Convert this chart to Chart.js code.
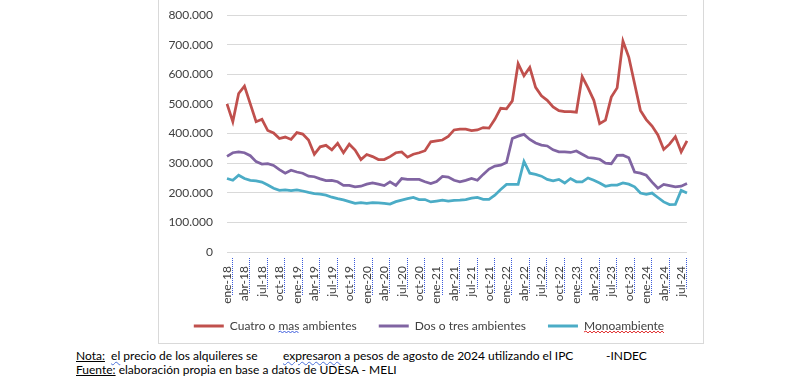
<!DOCTYPE html>
<html><head><meta charset="utf-8">
<script src="https://cdn.jsdelivr.net/npm/chart.js@4/dist/chart.umd.min.js"></script>
<style>
html,body{margin:0;padding:0;background:#fff;width:800px;height:383px;overflow:hidden;font-family:Lato,"Liberation Sans",sans-serif;}
#frame{position:absolute;left:158px;top:-30px;width:544px;height:372px;border:1px solid #d9d9d9;}
#wrap{position:absolute;left:159px;top:0;width:544px;height:342px;}
.fn{position:absolute;font-size:12px;color:#000;white-space:pre;line-height:14px;}
.u{text-decoration:underline;}
.w{text-decoration:underline wavy #4a6fd8;text-decoration-thickness:1px;}
</style></head><body>
<div id="frame"></div>
<div id="wrap"><canvas id="c" width="544" height="342"></canvas></div>
<div class="fn" style="left:76px;top:349px"><span class="u">Nota:</span>  <span class="w">el</span> precio de los alquileres se</div>
<div class="fn" style="left:283px;top:349px"><span class="w">expresaron</span> a pesos de agosto de 2024 utilizando el IPC</div>
<div class="fn" style="left:606px;top:349px">-INDEC</div>
<div class="fn" style="left:76px;top:363px"><span class="u">Fuente:</span> elaboración propia en base a datos de UDESA - MELI</div>
<script>
const months = [
 "ene-18","feb-18","mar-18","abr-18","may-18","jun-18","jul-18","ago-18","sep-18","oct-18","nov-18","dic-18",
 "ene-19","feb-19","mar-19","abr-19","may-19","jun-19","jul-19","ago-19","sep-19","oct-19","nov-19","dic-19",
 "ene-20","feb-20","mar-20","abr-20","may-20","jun-20","jul-20","ago-20","sep-20","oct-20","nov-20","dic-20",
 "ene-21","feb-21","mar-21","abr-21","may-21","jun-21","jul-21","ago-21","sep-21","oct-21","nov-21","dic-21",
 "ene-22","feb-22","mar-22","abr-22","may-22","jun-22","jul-22","ago-22","sep-22","oct-22","nov-22","dic-22",
 "ene-23","feb-23","mar-23","abr-23","may-23","jun-23","jul-23","ago-23","sep-23","oct-23","nov-23","dic-23",
 "ene-24","feb-24","mar-24","abr-24","may-24","jun-24","jul-24","ago-24"
];
const cuatroOMas = [
 500000,440000,535000,560000,500000,440000,448000,410000,402000,383000,388000,380000,
 403000,398000,378000,330000,355000,360000,345000,367000,335000,364000,344000,312000,
 329000,322000,312000,312000,322000,335000,338000,320000,330000,335000,342000,372000,
 375000,378000,390000,412000,415000,415000,410000,412000,420000,418000,448000,485000,
 483000,510000,636000,595000,623000,556000,527000,512000,490000,477000,474000,474000,
 472000,592000,554000,512000,433000,445000,523000,554000,712000,658000,568000,478000,
 447000,425000,395000,346000,364000,389000,338000,375000
];
const dosOTres = [
 323000,335000,338000,335000,325000,305000,297000,298000,292000,278000,266000,276000,
 270000,266000,256000,254000,247000,241000,242000,237000,225000,225000,220000,222000,
 229000,233000,229000,224000,237000,225000,248000,245000,245000,245000,237000,231000,
 238000,255000,253000,242000,237000,242000,248000,242000,262000,280000,290000,293000,
 302000,383000,391000,397000,380000,368000,361000,358000,345000,338000,338000,336000,
 341000,330000,319000,317000,313000,300000,298000,326000,327000,318000,270000,266000,
 259000,236000,215000,228000,224000,220000,222000,231000
];
const mono = [
 248000,242000,259000,248000,242000,240000,236000,226000,215000,208000,210000,207000,
 210000,206000,201000,197000,195000,192000,185000,180000,176000,170000,164000,167000,
 164000,167000,166000,164000,162000,170000,175000,180000,184000,177000,177000,169000,
 172000,175000,172000,174000,175000,177000,182000,184000,178000,178000,192000,211000,
 228000,228000,228000,306000,266000,262000,256000,245000,240000,245000,233000,248000,
 237000,237000,250000,242000,233000,222000,226000,226000,233000,229000,220000,199000,
 195000,199000,184000,169000,160000,161000,208000,199000
];
const seriesNames = ["Cuatro o mas ambientes","Dos o tres ambientes","Monoambiente"];
const yTicks = [0,100000,200000,300000,400000,500000,600000,700000,800000];

const colors = ["#C0504D","#8064A2","#4BACC6"];
const fontFam = "Lato, 'Liberation Sans', sans-serif";
const fmt = v => v === 0 ? "0" : String(v).replace(/\B(?=(\d{3})+(?!\d))/g, ".");

function wavy(ctx, x0, x1, y, color) {
  ctx.save(); ctx.strokeStyle = color; ctx.lineWidth = 1; ctx.setLineDash([]);
  ctx.beginPath(); ctx.moveTo(x0, y);
  let up = true;
  for (let x = x0 + 2; x <= x1; x += 2) { ctx.lineTo(x, up ? y - 1 : y + 1); up = !up; }
  ctx.stroke(); ctx.restore();
}

const marksPlugin = {
  id: "marks",
  afterDraw(chart) {
    const ctx = chart.ctx;
    const xs = chart.scales.x;
    ctx.save();
    ctx.font = "12px " + fontFam;
    ctx.strokeStyle = "#3b5bdb"; ctx.lineWidth = 1; ctx.setLineDash([1, 1]);
    months.forEach((m, i) => {
      if (i % 3 !== 0) return;
      const x = Math.round(xs.getPixelForTick(i)) + 5.5;
      const w = ctx.measureText(m).width;
      const y0 = xs.top + 6;
      ctx.beginPath(); ctx.moveTo(x, y0); ctx.lineTo(x, y0 + w); ctx.stroke();
    });
    ctx.restore();
    const lg = chart.legend;
    if (lg && lg.legendHitBoxes) {
      ctx.save(); ctx.font = "12px " + fontFam;
      const hb0 = lg.legendHitBoxes[0];
      const t0 = hb0.left + 30 + 6;
      const yb = hb0.top + hb0.height / 2 + 6;
      const pre = ctx.measureText("Cuatro o ").width;
      const mw = ctx.measureText("mas").width;
      wavy(ctx, t0 + pre, t0 + pre + mw, yb, "#3b5bdb");
      const hb2 = lg.legendHitBoxes[2];
      const t2 = hb2.left + 30 + 6;
      wavy(ctx, t2, t2 + ctx.measureText("Monoambiente").width, yb, "#e03131");
      ctx.restore();
    }
  }
};

const noClip = s => { s._computeLabelArea = () => undefined; };

new Chart(document.getElementById("c"), {
  type: "line",
  data: {
    labels: months,
    datasets: [cuatroOMas, dosOTres, mono].map((d, i) => ({
      label: seriesNames[i], data: d, borderColor: colors[i], backgroundColor: colors[i],
      borderWidth: 2.75, pointRadius: 0, tension: 0, fill: false
    }))
  },
  plugins: [marksPlugin],
  options: {
    responsive: false, animation: false, devicePixelRatio: 1,
    layout: { padding: { left: 12, right: 16, top: 15, bottom: 0 } },
    plugins: {
      tooltip: { enabled: false },
      legend: {
        position: "bottom",
        labels: {
          boxWidth: 30, boxHeight: 3, padding: 22, color: "#404040",
          font: { family: fontFam, size: 12 },
          generateLabels: (chart) => chart.data.datasets.map((ds, i) => ({
            text: ds.label, fillStyle: ds.borderColor, strokeStyle: ds.borderColor,
            lineWidth: 0, hidden: false, datasetIndex: i, fontColor: "#404040"
          }))
        }
      }
    },
    scales: {
      y: {
        min: 0, max: 800000,
        afterBuildTicks: s => { s.ticks = yTicks.map(v => ({ value: v })); },
        afterFit: s => { s.width = 56; s.paddingTop = 0; s.paddingBottom = 0; noClip(s); },
        ticks: { padding: 14, color: "#404040", font: { family: fontFam, size: 12 }, callback: v => fmt(v) },
        grid: { color: "#d9d9d9", drawTicks: false, lineWidth: 1 },
        border: { display: false }
      },
      x: {
        afterFit: s => { s.height = 46; s.paddingLeft = 0; s.paddingRight = 0; noClip(s); },
        ticks: {
          autoSkip: false, maxRotation: 90, minRotation: 90, padding: 6,
          color: "#404040", font: { family: fontFam, size: 12 },
          callback: function (v, i) { return i % 3 === 0 ? months[i] : ""; }
        },
        grid: { display: false },
        border: { display: false }
      }
    }
  }
});
</script>
</body></html>
